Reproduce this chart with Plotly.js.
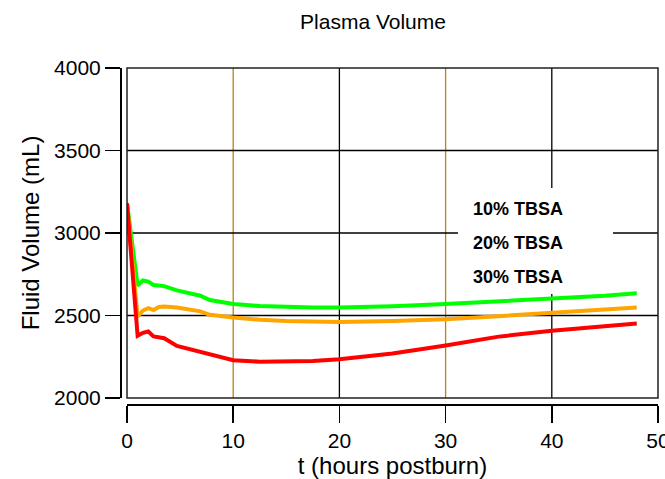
<!DOCTYPE html>
<html>
<head>
<meta charset="utf-8">
<script src="https://cdn.plot.ly/plotly-3.0.1.min.js"></script>
<style>html,body{margin:0;padding:0;background:#fff;}#chart{width:665px;height:479px;}</style>
</head>
<body>
<div id="chart"></div>
<script>
// Time (hours postburn)
var timeHours = [0, 1, 1.5, 2, 2.5, 3, 3.5, 4.7, 6.9, 7.8, 10, 12.5, 15, 17.5, 20, 25, 30, 35, 40, 45, 48];
// Plasma volume (mL)
var tbsa10 = [3180, 2682, 2712, 2705, 2685, 2680, 2678, 2652, 2620, 2594, 2570, 2557, 2551, 2549, 2549, 2556, 2570, 2586, 2601, 2619, 2635];
var tbsa20 = [3180, 2492, 2530, 2545, 2533, 2552, 2555, 2549, 2525, 2504, 2488, 2474, 2467, 2462, 2461, 2467, 2478, 2496, 2518, 2537, 2549];
var tbsa30 = [3180, 2377, 2395, 2403, 2373, 2370, 2362, 2316, 2280, 2260, 2229, 2220, 2219, 2224, 2235, 2270, 2318, 2372, 2407, 2435, 2451];
var seriesNames = ["10% TBSA", "20% TBSA", "30% TBSA"];
var seriesColors = ["#00FF00", "#FFA500", "#FF0000"];
var xTicks = [0, 10, 20, 30, 40, 50];
var yTicks = [2000, 2500, 3000, 3500, 4000];
var orangeGrid = [10, 30];

var FONT = "Arial, 'Liberation Sans', sans-serif";
var seriesData = [tbsa10, tbsa20, tbsa30];
var traces = seriesData.map(function (ys, i) {
  return {
    x: timeHours, y: ys, name: seriesNames[i], type: "scatter", mode: "lines",
    line: {color: seriesColors[i], width: 4}, showlegend: false
  };
});

// plot-area geometry in paper fractions (margins l=120, r=7, t=68, b=75)
var XD0 = 7 / 538, YD0 = 6 / 336;

var shapes = [];
// vertical grid lines (inner ticks)
xTicks.slice(1, -1).forEach(function (g) {
  var isOrange = orangeGrid.indexOf(g) >= 0;
  shapes.push({type: "line", xref: "x", yref: "paper", x0: g, x1: g, y0: YD0, y1: 1,
    line: {color: isOrange ? "#C0820E" : "#000", width: 1.3}, layer: "below"});
});
// horizontal grid lines (inner ticks)
yTicks.slice(1, -1).forEach(function (g) {
  shapes.push({type: "line", xref: "paper", yref: "y", x0: XD0, x1: 1, y0: g, y1: g,
    line: {color: "#000", width: 1.3}, layer: "below"});
});
// legend box (white, hides the grid behind the labels)
shapes.push({type: "rect", xref: "paper", yref: "paper",
  x0: (458 - 120) / 538, x1: (613 - 120) / 538,
  y0: 1 - (294 - 68) / 336, y1: 1 - (188 - 68) / 336,
  fillcolor: "#ffffff", line: {width: 0}, layer: "below"});
// plot frame
shapes.push({type: "rect", xref: "paper", yref: "paper", x0: XD0, x1: 1, y0: YD0, y1: 1,
  line: {color: "#222", width: 1.5}, layer: "above"});

var annotations = seriesNames.map(function (n, i) {
  return {text: "<b>" + n + "</b>", xref: "paper", yref: "paper",
    x: (471 - 120) / 538, xanchor: "left",
    y: 1 - (209.5 + i * 33.7 - 68) / 336, yanchor: "middle",
    showarrow: false, font: {family: FONT, size: 18, color: "#000"}};
});

var layout = {
  width: 665, height: 479,
  margin: {l: 120, r: 7, t: 68, b: 75, pad: 0},
  paper_bgcolor: "#fff", plot_bgcolor: "rgba(0,0,0,0)",
  title: {text: "Plasma Volume", x: 373 / 665, xanchor: "center", xref: "container",
    y: 1 - 22 / 479, yanchor: "middle", yref: "container",
    font: {family: FONT, size: 21, color: "#000"}},
  xaxis: {
    range: [0, 50], domain: [XD0, 1], anchor: "free", position: 0,
    tickvals: xTicks, ticktext: xTicks.map(String), ticklabeloverflow: "allow",
    showline: true, linecolor: "#000", linewidth: 1.5,
    ticks: "outside", ticklen: 17, tickwidth: 1.5, tickcolor: "#000",
    showgrid: false, zeroline: false,
    tickfont: {family: FONT, size: 21, color: "#000"},
    title: {text: "t (hours postburn)", standoff: 2, font: {family: FONT, size: 24, color: "#000"}}
  },
  yaxis: {
    range: [2000, 4000], domain: [YD0, 1], anchor: "free", position: 0,
    tickvals: yTicks, ticktext: yTicks.map(String),
    showline: true, linecolor: "#000", linewidth: 1.5,
    ticks: "outside", ticklen: 15, tickwidth: 1.5, tickcolor: "#000",
    showgrid: false, zeroline: false,
    tickfont: {family: FONT, size: 21, color: "#000"},
    title: {text: "Fluid Volume (mL)", standoff: 6, font: {family: FONT, size: 24, color: "#000"}}
  },
  shapes: shapes,
  annotations: annotations,
  showlegend: false
};

Plotly.newPlot("chart", traces, layout, {displayModeBar: false, staticPlot: true});
</script>
</body>
</html>
